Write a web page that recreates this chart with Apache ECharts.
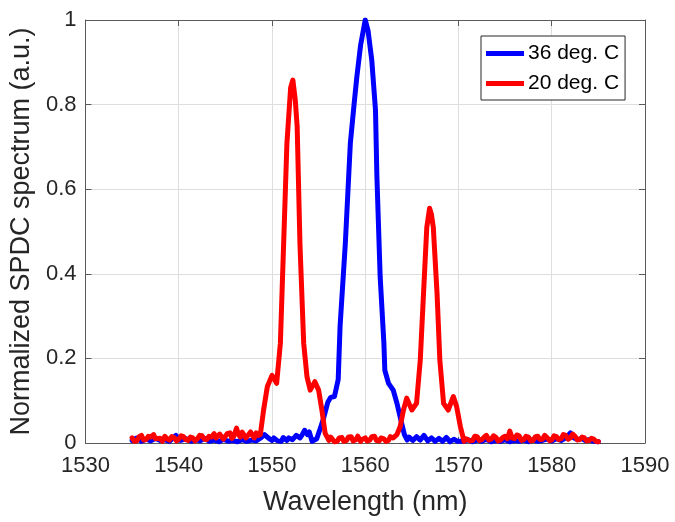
<!DOCTYPE html>
<html>
<head>
<meta charset="utf-8">
<script src="https://cdn.jsdelivr.net/npm/echarts@6/dist/echarts.min.js"></script>
<style>
  html, body { margin: 0; padding: 0; background: #fff; }
  #chart { width: 675px; height: 522px; }
</style>
</head>
<body>
<div id="chart"></div>
<script>
// Axis ranges and tick labels
const xTicks = [1530, 1540, 1550, 1560, 1570, 1580, 1590];
const yTicks = [0, 0.2, 0.4, 0.6, 0.8, 1];
const seriesNames = ['36 deg. C', '20 deg. C'];

// SPDC spectrum at 36 deg. C: [wavelength (nm), normalized intensity]
const spectrum36 = [
  [1535.0,0.006],[1535.5,0.012],[1536.0,0.004],[1536.5,0.009],[1537.0,0.005],[1537.5,0.011],
  [1538.0,0.006],[1538.5,0.008],[1539.0,0.004],[1539.7,0.018],[1540.2,0.006],[1540.8,0.010],
  [1541.3,0.004],[1541.8,0.008],[1542.3,0.005],[1542.8,0.011],[1543.3,0.004],[1543.8,0.007],
  [1544.3,0.003],[1544.8,0.009],[1545.3,0.004],[1545.8,0.006],[1546.3,0.003],[1546.8,0.008],
  [1547.3,0.004],[1547.8,0.007],[1548.3,0.005],[1548.8,0.012],[1549.2,0.020],[1549.6,0.012],
  [1550.0,0.006],[1550.2,0.012],[1550.4,0.014],[1550.6,0.005],[1550.8,0.008],[1551.0,0.004],
  [1551.2,0.013],[1551.4,0.009],[1551.6,0.006],[1551.8,0.012],[1552.0,0.016],[1552.2,0.008],
  [1552.4,0.010],[1552.6,0.018],[1552.8,0.022],[1553.0,0.012],[1553.2,0.018],[1553.5,0.030],
  [1553.8,0.020],[1554.0,0.026],[1554.3,0.004],[1554.8,0.010],[1555.2,0.036],[1555.5,0.056],
  [1556.0,0.097],[1556.3,0.108],[1556.7,0.110],[1557.1,0.150],[1557.3,0.275],[1557.86,0.470],
  [1558.4,0.708],[1558.8,0.800],[1559.1,0.866],[1559.5,0.940],[1560.0,1.000],[1560.3,0.975],
  [1560.7,0.905],[1561.1,0.787],[1561.25,0.630],[1561.6,0.393],[1562.0,0.236],[1562.1,0.172],
  [1562.5,0.141],[1563.0,0.125],[1563.4,0.094],[1563.9,0.047],[1564.2,0.020],[1564.5,0.007],
  [1564.7,0.014],[1564.9,0.016],[1565.1,0.006],[1565.3,0.008],[1565.5,0.015],[1565.7,0.019],
  [1565.9,0.007],[1566.1,0.010],[1566.3,0.018],[1566.5,0.016],[1566.7,0.005],[1566.9,0.007],
  [1567.1,0.012],[1567.3,0.014],[1567.5,0.004],[1567.7,0.006],[1567.9,0.011],[1568.1,0.012],
  [1568.3,0.004],[1568.5,0.005],[1568.7,0.013],[1568.9,0.010],[1569.1,0.003],[1569.3,0.004],
  [1569.5,0.009],[1569.7,0.012],[1569.9,0.004],[1570.1,0.006],[1570.6,0.004],[1571.0,0.008],
  [1571.5,0.003],[1572.0,0.007],[1572.5,0.004],[1573.0,0.009],[1573.5,0.003],[1574.0,0.006],
  [1574.5,0.004],[1575.0,0.008],[1575.5,0.003],[1576.0,0.006],[1576.5,0.004],[1577.0,0.007],
  [1577.5,0.003],[1578.0,0.008],[1578.5,0.004],[1579.0,0.006],[1579.5,0.009],[1580.0,0.005],
  [1580.5,0.010],[1581.0,0.006],[1581.5,0.012],[1582.0,0.024],[1582.4,0.012],[1582.8,0.008],
  [1583.2,0.011],[1583.6,0.006],[1584.0,0.008],[1584.5,0.004],[1585.0,0.003]
];

// SPDC spectrum at 20 deg. C: [wavelength (nm), normalized intensity]
const spectrum20 = [
  [1535.0,0.012],[1535.25,0.004],[1535.5,0.005],[1535.75,0.015],[1536.0,0.018],[1536.25,0.007],
  [1536.5,0.008],[1536.75,0.016],[1537.0,0.014],[1537.3,0.020],[1537.5,0.010],[1537.7,0.006],
  [1538.0,0.011],[1538.25,0.004],[1538.5,0.016],[1538.75,0.010],[1539.0,0.007],[1539.25,0.015],
  [1539.5,0.013],[1539.75,0.005],[1540.0,0.009],[1540.25,0.017],[1540.5,0.015],[1540.75,0.008],
  [1541.0,0.006],[1541.25,0.014],[1541.5,0.012],[1541.75,0.005],[1542.0,0.010],[1542.25,0.018],
  [1542.5,0.017],[1542.75,0.009],[1543.0,0.008],[1543.25,0.016],[1543.5,0.014],[1543.8,0.022],
  [1544.0,0.012],[1544.2,0.010],[1544.4,0.021],[1544.6,0.020],[1544.8,0.009],[1545.0,0.012],
  [1545.2,0.022],[1545.5,0.024],[1545.7,0.011],[1545.9,0.016],[1546.2,0.035],[1546.4,0.020],
  [1546.6,0.014],[1546.8,0.026],[1547.0,0.022],[1547.2,0.012],[1547.4,0.010],[1547.7,0.026],
  [1547.9,0.018],[1548.1,0.012],[1548.3,0.024],[1548.5,0.018],[1548.75,0.020],[1549.1,0.078],
  [1549.5,0.133],[1550.0,0.160],[1550.5,0.141],[1550.9,0.236],[1551.25,0.472],[1551.6,0.708],
  [1552.0,0.840],[1552.24,0.858],[1552.5,0.810],[1552.7,0.748],[1553.0,0.470],[1553.4,0.236],
  [1553.75,0.157],[1554.1,0.125],[1554.6,0.145],[1555.0,0.125],[1555.35,0.078],[1555.7,0.023],
  [1556.1,0.006],[1556.3,0.014],[1556.5,0.010],[1556.7,0.003],[1557.0,0.004],[1557.2,0.012],
  [1557.5,0.013],[1557.7,0.004],[1558.0,0.006],[1558.2,0.014],[1558.5,0.015],[1558.7,0.005],
  [1559.0,0.008],[1559.2,0.016],[1559.5,0.004],[1559.7,0.009],[1560.0,0.012],[1560.2,0.005],
  [1560.5,0.007],[1560.7,0.015],[1561.0,0.016],[1561.2,0.006],[1561.5,0.005],[1561.7,0.012],
  [1562.0,0.010],[1562.2,0.004],[1562.5,0.006],[1562.7,0.015],[1563.0,0.012],[1563.4,0.020],
  [1563.75,0.039],[1564.1,0.078],[1564.45,0.106],[1565.0,0.078],[1565.5,0.094],[1565.9,0.196],
  [1566.25,0.354],[1566.6,0.510],[1566.9,0.555],[1567.1,0.540],[1567.3,0.510],[1567.7,0.354],
  [1568.0,0.196],[1568.4,0.094],[1568.9,0.078],[1569.45,0.110],[1569.8,0.086],[1570.2,0.039],
  [1570.6,0.004],[1570.8,0.010],[1571.0,0.012],[1571.25,0.005],[1571.5,0.006],[1571.75,0.016],
  [1572.0,0.015],[1572.25,0.006],[1572.5,0.008],[1572.75,0.014],[1573.0,0.018],[1573.25,0.007],
  [1573.5,0.009],[1573.75,0.017],[1574.0,0.014],[1574.25,0.005],[1574.5,0.007],[1574.75,0.013],
  [1575.0,0.016],[1575.25,0.010],[1575.5,0.028],[1575.75,0.012],[1576.0,0.010],[1576.25,0.019],
  [1576.5,0.017],[1576.75,0.006],[1577.0,0.008],[1577.25,0.016],[1577.5,0.014],[1577.75,0.005],
  [1578.0,0.006],[1578.25,0.015],[1578.5,0.016],[1578.75,0.008],[1579.0,0.009],[1579.25,0.018],
  [1579.5,0.013],[1579.75,0.006],[1580.0,0.007],[1580.25,0.017],[1580.5,0.015],[1580.75,0.008],
  [1581.0,0.010],[1581.25,0.020],[1581.5,0.018],[1581.75,0.009],[1582.0,0.012],[1582.25,0.021],
  [1582.5,0.016],[1582.75,0.007],[1583.0,0.008],[1583.25,0.014],[1583.5,0.012],[1583.75,0.005],
  [1584.0,0.006],[1584.25,0.011],[1584.5,0.009],[1584.75,0.004],[1585.0,0.003]
];

const FONT = '"Liberation Sans", Arial, Helvetica, sans-serif';
const INK = '#262626';
const AXIS_COLOR = '#5a5a5a';

const chart = echarts.init(document.getElementById('chart'), null, { renderer: 'canvas' });

const tickStyle = { show: true, inside: true, length: 6, lineStyle: { color: AXIS_COLOR, width: 1 } };
const lineStyleAxis = { show: true, onZero: false, lineStyle: { color: AXIS_COLOR, width: 1 } };

chart.setOption({
  backgroundColor: '#ffffff',
  animation: false,
  grid: { left: 85, right: 30, top: 20, bottom: 79, containLabel: false },
  legend: {
    data: seriesNames,
    orient: 'vertical',
    left: 481,
    top: 36,
    width: 147,
    padding: [7, 6, 6, 5],
    itemGap: 9,
    itemWidth: 38,
    itemHeight: 5,
    icon: 'rect',
    borderColor: INK,
    borderWidth: 1,
    backgroundColor: '#ffffff',
    textStyle: { fontFamily: FONT, fontSize: 21, color: '#000', padding: [0, 0, 0, -1] }
  },
  xAxis: [
    {
      type: 'value',
      min: xTicks[0],
      max: xTicks[xTicks.length - 1],
      interval: xTicks[1] - xTicks[0],
      name: 'Wavelength (nm)',
      nameLocation: 'middle',
      nameGap: 46,
      nameTextStyle: { fontFamily: FONT, fontSize: 27, color: INK },
      axisLine: lineStyleAxis,
      axisTick: tickStyle,
      axisLabel: {
        fontFamily: FONT, fontSize: 22, color: INK, margin: 12,
        formatter: v => String(Math.round(v))
      },
      splitLine: { show: true, lineStyle: { color: '#dedede', width: 1 } }
    },
    {
      type: 'value',
      position: 'top',
      min: xTicks[0],
      max: xTicks[xTicks.length - 1],
      interval: xTicks[1] - xTicks[0],
      axisLine: lineStyleAxis,
      axisTick: tickStyle,
      axisLabel: { show: false },
      splitLine: { show: false }
    }
  ],
  yAxis: [
    {
      type: 'value',
      min: yTicks[0],
      max: yTicks[yTicks.length - 1],
      interval: yTicks[1] - yTicks[0],
      name: 'Normalized SPDC spectrum (a.u.)',
      nameLocation: 'middle',
      nameGap: 49,
      nameTextStyle: { fontFamily: FONT, fontSize: 27, color: INK },
      axisLine: lineStyleAxis,
      axisTick: tickStyle,
      axisLabel: {
        fontFamily: FONT, fontSize: 22, color: INK, margin: 9,
        formatter: v => String(Math.round(v * 10) / 10)
      },
      splitLine: { show: true, lineStyle: { color: '#dedede', width: 1 } }
    },
    {
      type: 'value',
      position: 'right',
      min: yTicks[0],
      max: yTicks[yTicks.length - 1],
      interval: yTicks[1] - yTicks[0],
      axisLine: lineStyleAxis,
      axisTick: tickStyle,
      axisLabel: { show: false },
      splitLine: { show: false }
    }
  ],
  series: [
    {
      name: seriesNames[0],
      type: 'line',
      data: spectrum36,
      xAxisIndex: 0,
      yAxisIndex: 0,
      showSymbol: false,
      smooth: false,
      color: '#0000ff',
      lineStyle: { width: 5, color: '#0000ff', cap: 'round', join: 'round' },
      z: 2
    },
    {
      name: seriesNames[1],
      type: 'line',
      data: spectrum20,
      xAxisIndex: 0,
      yAxisIndex: 0,
      showSymbol: false,
      smooth: false,
      color: '#ff0000',
      lineStyle: { width: 5, color: '#ff0000', cap: 'round', join: 'round' },
      z: 3
    }
  ]
});
</script>
</body>
</html>
